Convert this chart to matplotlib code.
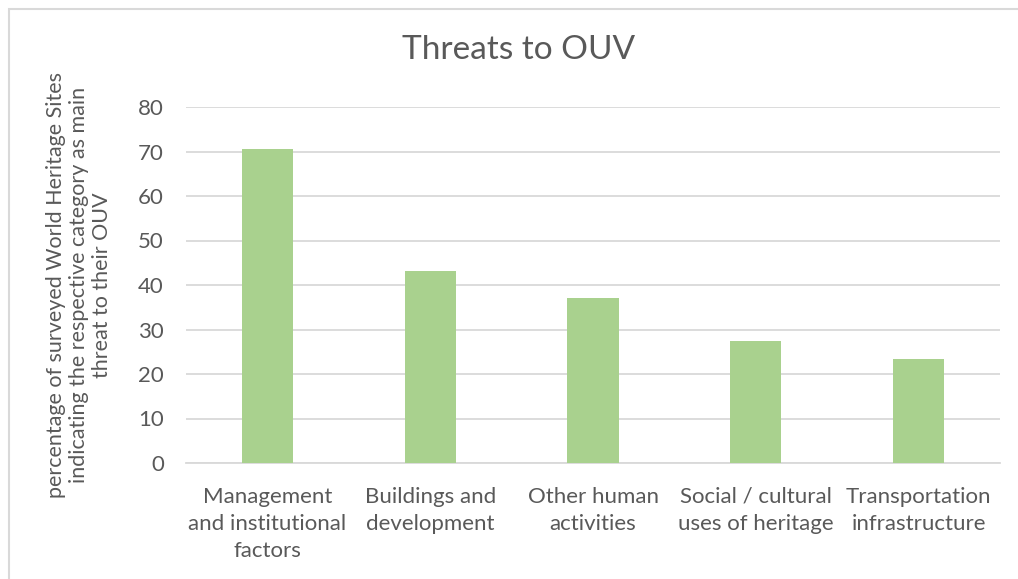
import matplotlib
matplotlib.use("Agg")
import matplotlib.pyplot as plt
from matplotlib.patches import Rectangle

categories = ["Management\nand institutional\nfactors", "Buildings and\ndevelopment",
              "Other human\nactivities", "Social / cultural\nuses of heritage",
              "Transportation\ninfrastructure"]
values = [70.6, 43.1, 37.1, 27.4, 23.4]
yticks = [0, 10, 20, 30, 40, 50, 60, 70, 80]

plt.rcParams['font.family'] = ['Lato', 'DejaVu Sans']
TXT = '#595959'

fig = plt.figure(figsize=(10.18, 5.79), dpi=100)
fig.patches.append(Rectangle((9/1018, -0.1), 1.2, (579-9)/579 + 0.1, transform=fig.transFigure,
                             fill=False, edgecolor='#D9D9D9', linewidth=1.5))
ax = fig.add_axes([186/1018, (579-463)/579, (1000-186)/1018, (463-107)/579])
x = range(len(categories))
ax.bar(x, values, width=0.315, color='#A9D18E', zorder=3)
ax.set_xlim(-0.5, len(categories) - 0.5)
ax.set_ylim(0, 80)
ax.set_yticks(yticks)
ax.set_yticklabels([str(t) for t in yticks], fontsize=16, color=TXT)
ax.set_xticks(list(x))
ax.set_xticklabels(categories, fontsize=16, color=TXT, linespacing=1.45)
ax.tick_params(axis='both', length=0)
ax.tick_params(axis='y', pad=16)
ax.tick_params(axis='x', pad=17)
ax.grid(axis='y', color='#D9D9D9', linewidth=1.3, zorder=0)
for s in ['top', 'right', 'left']:
    ax.spines[s].set_visible(False)
ax.spines['bottom'].set_color('#D9D9D9')
ax.spines['bottom'].set_linewidth(1.3)
ax.set_ylabel("percentage of surveyed World Heritage Sites\nindicating the respective category as main\nthreat to their OUV",
              fontsize=15.5, color=TXT, linespacing=1.16, labelpad=19)
fig.text(519/1018, 1 - 50/579, "Threats to OUV", ha='center', va='center', fontsize=24, color=TXT)
fig.savefig("out.png", dpi=100)
